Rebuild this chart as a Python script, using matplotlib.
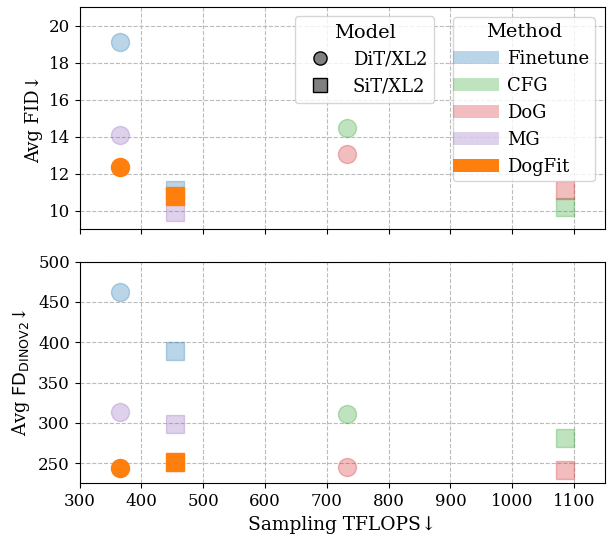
import matplotlib
matplotlib.use('Agg')
import matplotlib.pyplot as plt
from matplotlib.lines import Line2D
from matplotlib.patches import Patch, Rectangle
from matplotlib.legend_handler import HandlerPatch

plt.rcParams['font.family'] = ['DejaVu Serif']
plt.rcParams['mathtext.fontset'] = 'dejavuserif'

# 数据
methods = ['Finetune', 'CFG', 'DoG', 'MG', 'DogFit']
method_colors = ['#1f77b4', '#2ca02c', '#d62728', '#9467bd', '#ff7f0e']
method_alpha = [0.3, 0.3, 0.3, 0.3, 1.0]

dit_tflops = [366, 733, 733, 366, 366]
sit_tflops = [454, 1085, 1085, 454, 454]

dit_fid = [19.15, 14.48, 13.08, 14.1, 12.34]
sit_fid = [11.1, 10.19, 11.14, 9.93, 10.8]

dit_fd = [462, 311, 245, 313, 244]
sit_fd = [389, 281, 241, 298, 251]

fig, (ax1, ax2) = plt.subplots(2, 1, figsize=(6.08, 5.34), dpi=100, sharex=True)
fig.subplots_adjust(left=0.131, right=0.995, top=0.986, bottom=0.095, hspace=0.147)

MS = 13
for ax, dit_y, sit_y in [(ax1, dit_fid, sit_fid), (ax2, dit_fd, sit_fd)]:
    for i in range(len(methods)):
        c = method_colors[i]
        a = method_alpha[i]
        ax.plot(dit_tflops[i], dit_y[i], 'o', ms=MS, color=c, alpha=a, zorder=3)
        ax.plot(sit_tflops[i], sit_y[i], 's', ms=MS, color=c, alpha=a, zorder=3)
    ax.grid(True, linestyle='--', color='#bbbbbb', linewidth=0.8)
    ax.set_axisbelow(True)
    ax.tick_params(labelsize=12)

ax1.set_xlim(300, 1150)
ax1.set_ylim(9, 21)
ax1.set_yticks([10, 12, 14, 16, 18, 20])
ax2.set_ylim(225, 500)
ax2.set_yticks([250, 300, 350, 400, 450, 500])
ax2.set_xticks(range(300, 1101, 100))

ax1.set_ylabel('Avg FID↓', fontsize=13)
ax2.set_ylabel('Avg $\\mathsf{FD}_{\\mathsf{DINOV2}}$↓', fontsize=13)
ax2.set_xlabel('Sampling TFLOPS↓', fontsize=13.4)

# 图例
model_handles = [
    Line2D([], [], marker='o', linestyle='', ms=9.5, markerfacecolor='gray', markeredgecolor='black'),
    Line2D([], [], marker='s', linestyle='', ms=9.5, markerfacecolor='gray', markeredgecolor='black'),
]
leg1 = ax1.legend(model_handles, ['DiT/XL2', 'SiT/XL2'], title='Model', loc='upper right',
                  bbox_to_anchor=(0.675, 0.96), borderaxespad=0, fontsize=13, title_fontsize=14)
ax1.add_artist(leg1)


def wide_patch(legend, orig_handle, xdescent, ydescent, width, height, fontsize):
    # 色块向左延伸到图例边框
    ext = legend.borderpad * fontsize
    return Rectangle((-xdescent - ext, -ydescent), width + ext, height)


method_handles = [Patch(facecolor=c, alpha=a, edgecolor='none') for c, a in zip(method_colors, method_alpha)]
ax1.legend(method_handles, methods, title='Method', loc='upper right',
           bbox_to_anchor=(0.981, 0.955), borderaxespad=0, fontsize=13, title_fontsize=14,
           handlelength=2.3, handletextpad=0.44, borderpad=0.3,
           handler_map={Patch: HandlerPatch(patch_func=wide_patch)})

plt.savefig('out.png', dpi=100)
